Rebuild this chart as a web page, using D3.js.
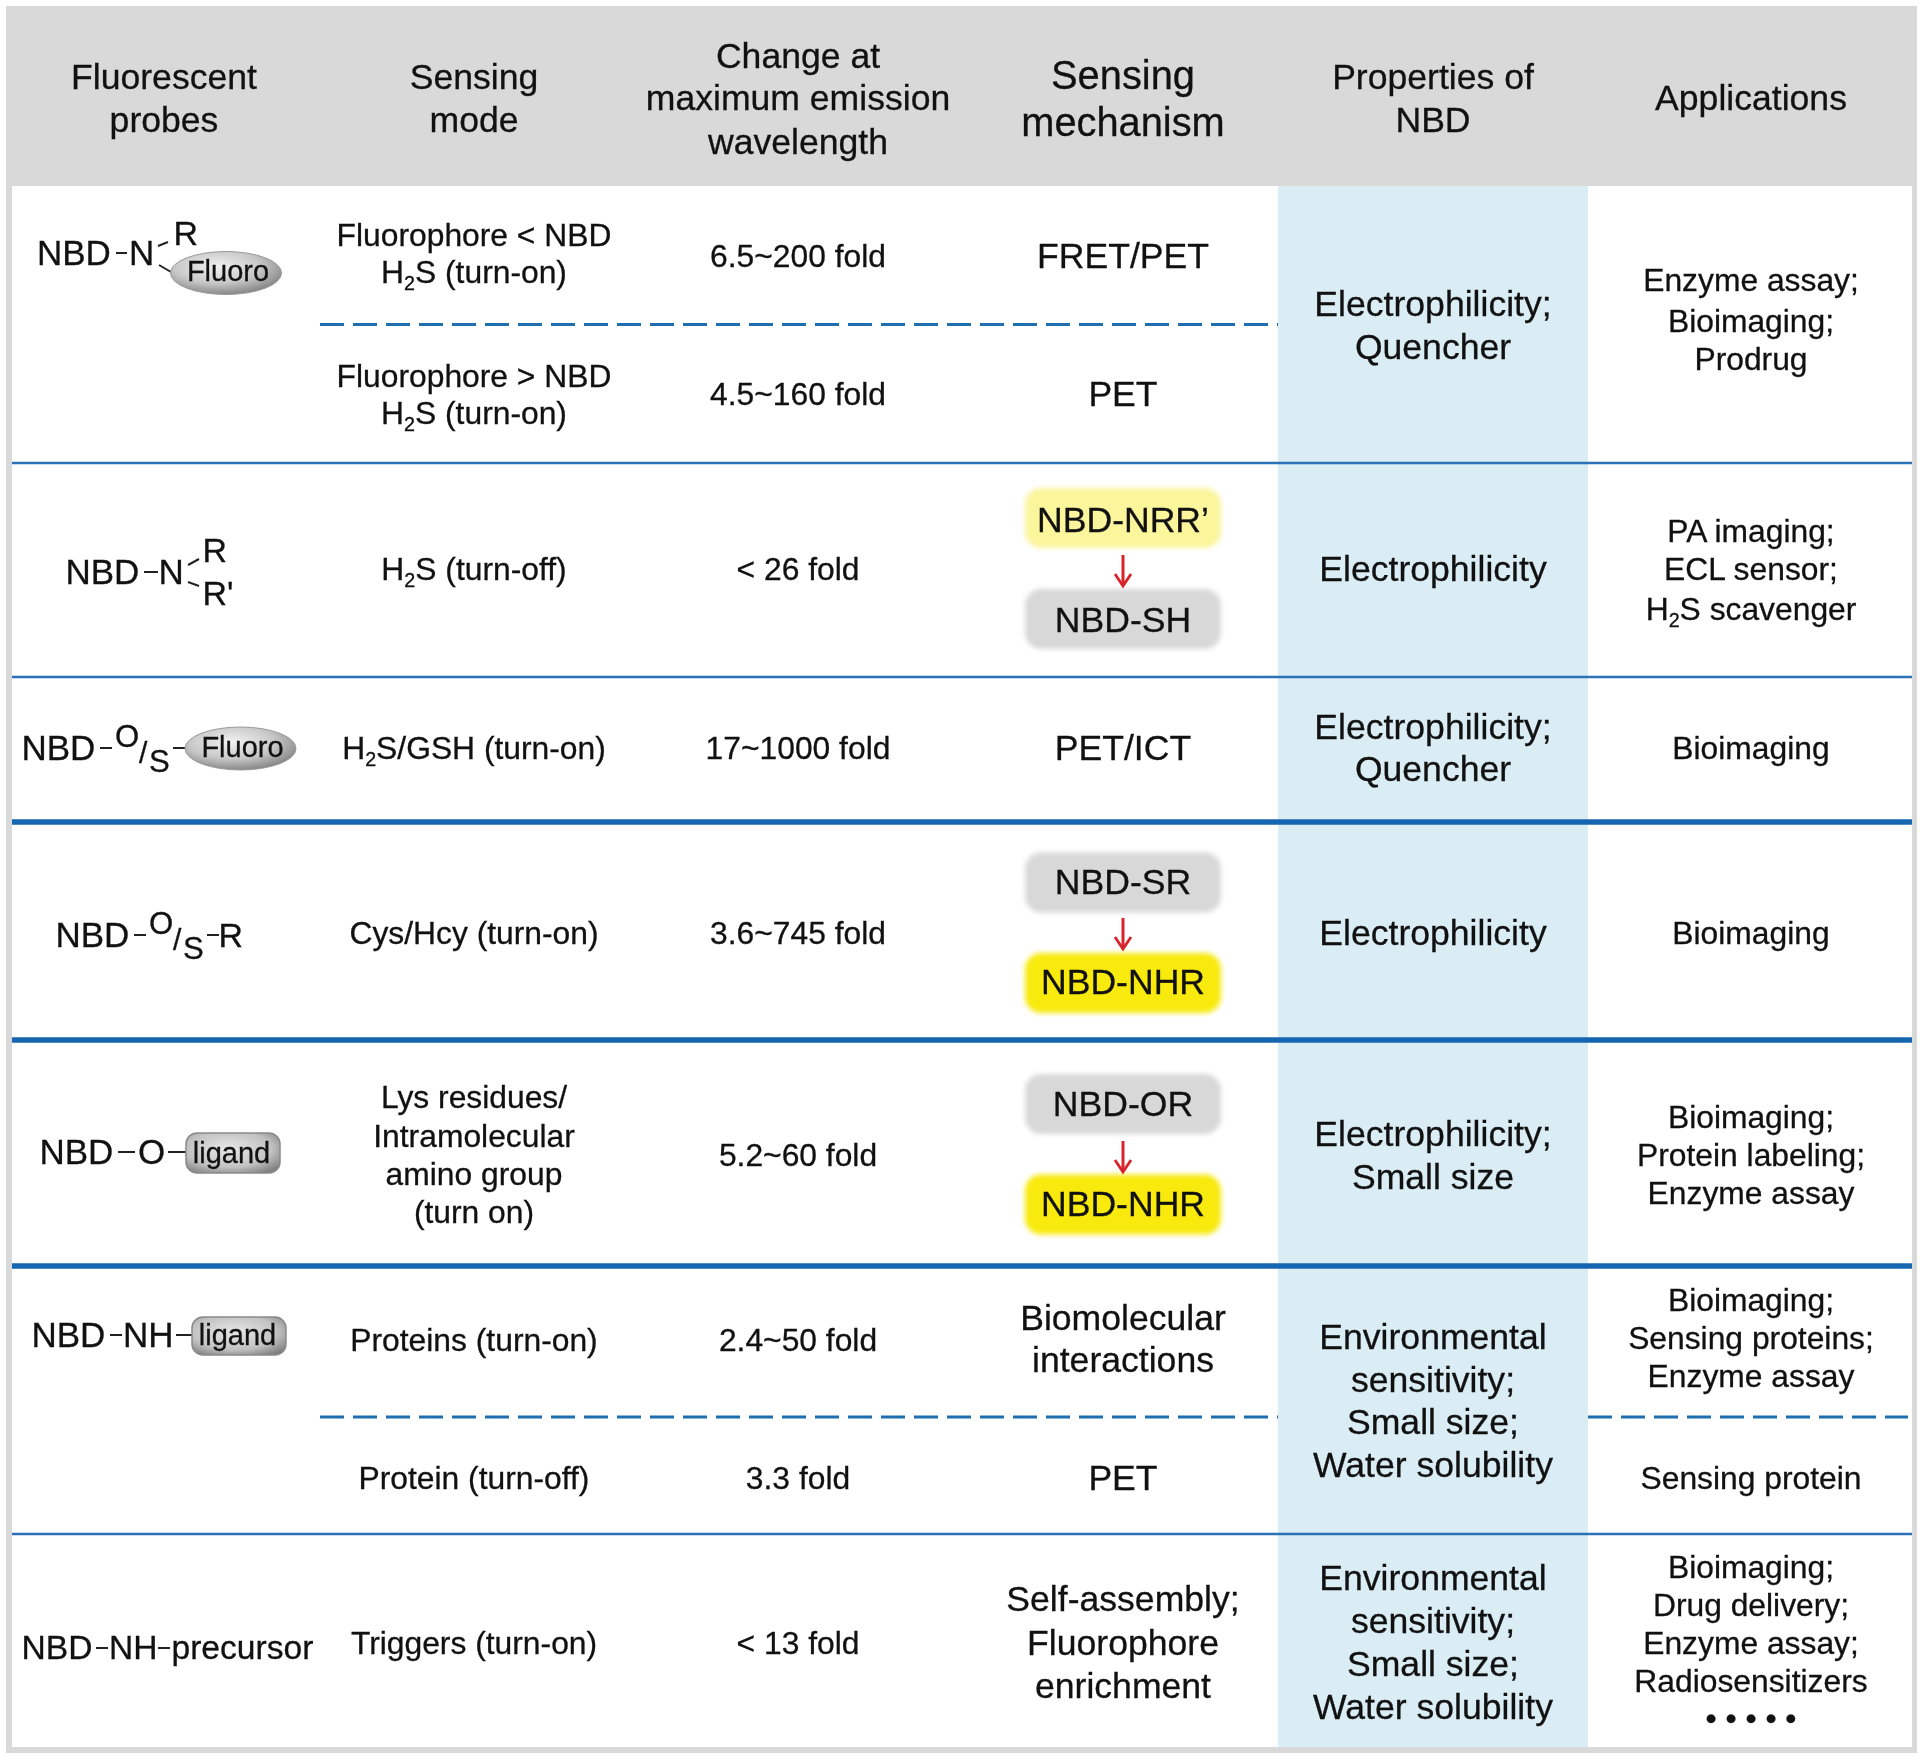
<!DOCTYPE html>
<html>
<head>
<meta charset="utf-8">
<style>
html,body{margin:0;padding:0;background:#fff}
svg{display:block;filter:blur(0.4px)}
text{font-family:"Liberation Sans",Arial,sans-serif;fill:#111;stroke:#111;stroke-width:.3px}
</style>
<script src="https://cdn.jsdelivr.net/npm/d3@7/dist/d3.min.js"></script>
</head>
<body>
<svg id="c" width="1920" height="1754"></svg>
<script>
// ---------- content ----------
const columnKeys = ["probe","mode","change","mechanism","properties","applications"];
const headers = [
  ["Fluorescent","probes"],
  ["Sensing","mode"],
  ["Change at","maximum emission","wavelength"],
  ["Sensing","mechanism"],
  ["Properties of","NBD"],
  ["Applications"]
];
const sensingModes = [
  ["Fluorophore < NBD","H_2_S (turn-on)"],
  ["Fluorophore > NBD","H_2_S (turn-on)"],
  ["H_2_S (turn-off)"],
  ["H_2_S/GSH (turn-on)"],
  ["Cys/Hcy (turn-on)"],
  ["Lys residues/","Intramolecular","amino group","(turn on)"],
  ["Proteins (turn-on)"],
  ["Protein (turn-off)"],
  ["Triggers (turn-on)"]
];
const foldChanges = ["6.5~200 fold","4.5~160 fold","< 26 fold","17~1000 fold","3.6~745 fold","5.2~60 fold","2.4~50 fold","3.3 fold","< 13 fold"];
const mechanisms = [
  ["FRET/PET"],["PET"],["PET/ICT"],["Biomolecular","interactions"],["PET"],
  ["Self-assembly;","Fluorophore","enrichment"]
];
const conversions = [
  ["NBD-NRR\u2019","NBD-SH"],
  ["NBD-SR","NBD-NHR"],
  ["NBD-OR","NBD-NHR"]
];
const properties = [
  ["Electrophilicity;","Quencher"],
  ["Electrophilicity"],
  ["Electrophilicity;","Quencher"],
  ["Electrophilicity"],
  ["Electrophilicity;","Small size"],
  ["Environmental","sensitivity;","Small size;","Water solubility"],
  ["Environmental","sensitivity;","Small size;","Water solubility"]
];
const applications = [
  ["Enzyme assay;","Bioimaging;","Prodrug"],
  ["PA imaging;","ECL sensor;","H_2_S scavenger"],
  ["Bioimaging"],
  ["Bioimaging"],
  ["Bioimaging;","Protein labeling;","Enzyme assay"],
  ["Bioimaging;","Sensing proteins;","Enzyme assay"],
  ["Sensing protein"],
  ["Bioimaging;","Drug delivery;","Enzyme assay;","Radiosensitizers","\u2022 \u2022 \u2022 \u2022 \u2022"]
];
const probeText = [
  ["NBD","N","R"],
  ["NBD","N","R","R'"],
  ["NBD","O","/","S"],
  ["NBD","O","/","S","R"],
  ["NBD","O"],
  ["NBD","NH"],
  ["NBD","NH","precursor"]
];
const probeTags = ["Fluoro","Fluoro","ligand","ligand"];

// ---------- layout ----------
const svg = d3.select("#c");
const colX = d3.scaleOrdinal().domain(columnKeys).range([164,474,798,1123,1433,1751]);
const FONT_BODY = 31.8, FONT_LARGE = 35.6, FONT_PROBE = 35;

const defs = svg.append("defs");
const blur = defs.append("filter").attr("id","soft").attr("x","-10%").attr("y","-20%").attr("width","120%").attr("height","140%");
blur.append("feGaussianBlur").attr("stdDeviation",2.6);
const eg = defs.append("radialGradient").attr("id","ell").attr("cx","42%").attr("cy","35%").attr("r","70%");
eg.append("stop").attr("offset","0%").attr("stop-color","#f2f2f2");
eg.append("stop").attr("offset","55%").attr("stop-color","#c8c8c8");
eg.append("stop").attr("offset","100%").attr("stop-color","#7d7d7d");
const lg = defs.append("radialGradient").attr("id","lig").attr("cx","45%").attr("cy","40%").attr("r","70%");
lg.append("stop").attr("offset","0%").attr("stop-color","#e8e8e8");
lg.append("stop").attr("offset","65%").attr("stop-color","#c2c2c2");
lg.append("stop").attr("offset","100%").attr("stop-color","#808080");

// backdrop: frame, header, highlighted column
svg.append("rect").attr("x",6).attr("y",6).attr("width",1911).attr("height",1747).attr("fill","#d9d9d9");
svg.append("rect").attr("x",12).attr("y",186).attr("width",1900).attr("height",1561).attr("fill","#fff");
svg.append("rect").attr("x",1278).attr("y",186).attr("width",310).attr("height",1561).attr("fill","#daecf4");

// rules
const rules = [
  {x1:320,x2:1278,y:324.5,w:3,dash:"24 9",c:"#1f6fb0"},
  {x1:12,x2:1912,y:463,w:2.4,c:"#2a72b5"},
  {x1:12,x2:1912,y:677,w:2.4,c:"#2a72b5"},
  {x1:12,x2:1912,y:822,w:5.5,c:"#1565b0"},
  {x1:12,x2:1912,y:1040,w:5.5,c:"#1565b0"},
  {x1:12,x2:1912,y:1266,w:5.5,c:"#1565b0"},
  {x1:320,x2:1278,y:1417,w:3,dash:"24 9",c:"#1f6fb0"},
  {x1:1588,x2:1908,y:1417,w:3,dash:"24 9",c:"#1f6fb0"},
  {x1:12,x2:1912,y:1534,w:2.4,c:"#2a72b5"}
];
svg.append("g").selectAll("line").data(rules).join("line")
  .attr("x1",d=>d.x1).attr("x2",d=>d.x2).attr("y1",d=>d.y).attr("y2",d=>d.y)
  .attr("stroke",d=>d.c).attr("stroke-width",d=>d.w).attr("stroke-dasharray",d=>d.dash||null);

// text helper: "_2_" marks a subscript; y is the visual centre of the line
function put(g, str, x, y, size, anchor){
  const t = g.append("text").attr("x",x).attr("y",y+size*0.34).attr("font-size",size)
    .attr("text-anchor",anchor||"middle");
  str.split(/_(\d)_/).forEach((part,i)=>{
    if(i%2){
      t.append("tspan").attr("font-size",size*0.62).attr("dy",size*0.24).text(part);
    } else if(part){
      const s = t.append("tspan").text(part);
      if(i>0) s.attr("dy",-size*0.24);
    }
  });
  return t;
}
function block(g, lines, key, ys, size){
  lines.forEach((l,i)=>put(g,l,colX(key),ys[i],size));
}
const content = svg.append("g");

// header
const headerY = [[77,120],[77,120],[56,98,142],[75,122],[77,120],[98]];
const headerSize = [35.6,35.6,35.6,39.8,35.6,35.6];
headers.forEach((lines,i)=>block(content,lines,columnKeys[i],headerY[i],headerSize[i]));

// sensing mode
const modeY = [[235,272],[376,413],[569],[748],[933],[1097,1136,1174,1212],[1340],[1478],[1643]];
sensingModes.forEach((l,i)=>block(content,l,"mode",modeY[i],FONT_BODY));

// fold change
const changeY = [256,394,569,748,933,1155,1340,1478,1643];
foldChanges.forEach((s,i)=>put(content,s,colX("change"),changeY[i],FONT_BODY));

// mechanism text
const mechY = [[256],[394],[748],[1318,1360],[1478],[1599,1643,1686]];
mechanisms.forEach((l,i)=>block(content,l,"mechanism",mechY[i],FONT_LARGE));

// mechanism conversion boxes
const boxFill = [["#fbf59c","#d8d8d8"],["#d8d8d8","#f8ea10"],["#d8d8d8","#f8ea10"]];
const boxCy = [[518,619],[882.5,983],[1104,1204.5]];
const textCy = [[520,620],[882,982],[1104,1204]];
const arrowY = [[555,587],[918,950],[1141,1173]];
const ax = colX("mechanism");
conversions.forEach((pair,i)=>{
  pair.forEach((label,j)=>{
    content.append("rect").attr("x",1025).attr("y",boxCy[i][j]-30).attr("width",196).attr("height",60)
      .attr("rx",16).attr("fill",boxFill[i][j]).attr("filter","url(#soft)");
    put(content,label,ax,textCy[i][j],FONT_LARGE);
  });
  const [a,b] = arrowY[i];
  content.append("path").attr("d",d3.line()([[ax,a],[ax,b-2]]))
    .attr("stroke","#d8232a").attr("stroke-width",3).attr("fill","none");
  content.append("path").attr("d",d3.line()([[ax-8,b-13],[ax,b-1],[ax+8,b-13]]))
    .attr("stroke","#d8232a").attr("stroke-width",2.8).attr("fill","none");
});

// properties
const propY = [[304,347],[569],[727,769],[933],[1134,1177],[1337,1380,1422,1465],[1578,1621,1664,1707]];
properties.forEach((l,i)=>block(content,l,"properties",propY[i],FONT_LARGE));

// applications
const appY = [[280,321,359],[531,569,609],[748],[933],[1117,1155,1193],[1300,1338,1376],[1478],[1567,1605,1643,1681,1718]];
applications.forEach((l,i)=>block(content,l,"applications",appY[i],FONT_BODY));

// probe structures: [x, baseline, size factor] for each fragment in probeText
const fragPos = [
  [[37,265],[129,265],[173.5,245,.97]],
  [[65.5,584],[158.5,584],[202.5,562,.97],[202.5,605,.97]],
  [[21.5,760],[115,746.5,.89],[139,763,.86],[149,771.5,.89]],
  [[55.5,947],[149,933.5,.89],[173,950,.86],[183,958.5,.89],[218.5,947,.97]],
  [[39.5,1164],[138,1164]],
  [[31.5,1347],[123,1347]],
  [[21.5,1659,.96],[109,1659,.96],[171.5,1659,.96]]
];
const probes = svg.append("g");
probeText.forEach((frag,i)=>{
  frag.forEach((s,j)=>{
    const p = fragPos[i][j];
    probes.append("text").attr("x",p[0]).attr("y",p[1])
      .attr("font-size",FONT_PROBE*(p[2]||1)).text(s);
  });
});
const bonds = [
  [116,253,127,253],[158,246,168,242],[159,265,171,272],
  [144,572,158,572],[188,565,199,559],[188,582,199,586],
  [100,748,112,748],[173,748,185,748],
  [134,935,146,935],[207,935,219,935],
  [118,1152,135,1152],[168,1152,186,1152],
  [110,1335,122,1335],[176,1335,192,1335],
  [96,1648,108,1648],[158,1648,170,1648]
];
probes.selectAll("line").data(bonds).join("line")
  .attr("x1",d=>d[0]).attr("y1",d=>d[1]).attr("x2",d=>d[2]).attr("y2",d=>d[3])
  .attr("stroke","#222").attr("stroke-width",2);

const tagPos = [
  {cx:226,cy:273,type:"e"},{cx:240.5,cy:748.5,type:"e"},
  {x:186,y:1133,w:94,h:40,tx:231.5,ty:1153,type:"r"},
  {x:192,y:1317,w:94,h:38,tx:237.5,ty:1335.5,type:"r"}
];
probeTags.forEach((s,i)=>{
  const p = tagPos[i];
  if(p.type==="e"){
    probes.append("ellipse").attr("cx",p.cx).attr("cy",p.cy).attr("rx",55.5).attr("ry",21.5)
      .attr("fill","url(#ell)").attr("stroke","#9a9a9a").attr("stroke-width",1);
    put(probes,s,p.cx+2,p.cy-1.5,29);
  } else {
    probes.append("rect").attr("x",p.x).attr("y",p.y).attr("width",p.w).attr("height",p.h).attr("rx",11)
      .attr("fill","url(#lig)").attr("stroke","#8a8a8a").attr("stroke-width",1.5);
    put(probes,s,p.tx,p.ty,29);
  }
});
</script>
</body>
</html>
